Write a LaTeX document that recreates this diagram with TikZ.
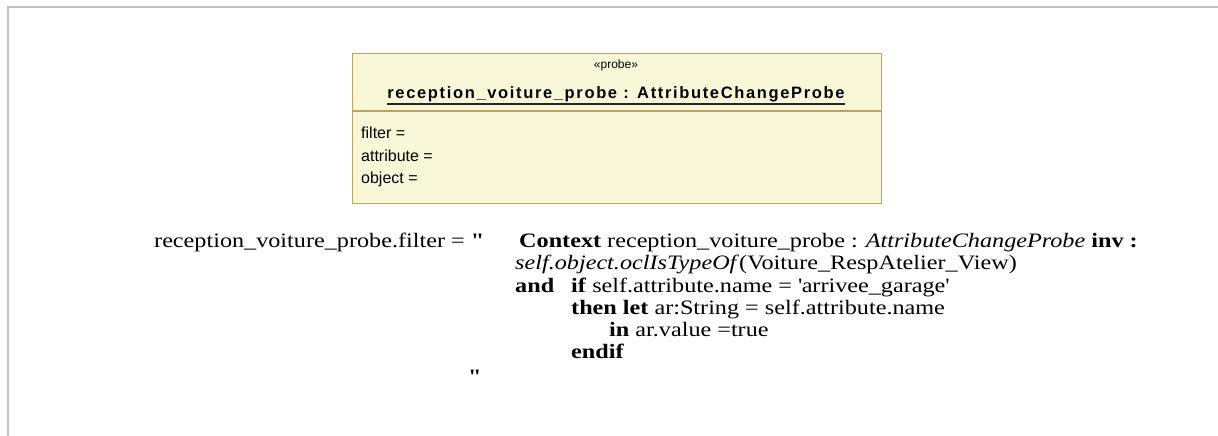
\documentclass[tikz,border=0pt]{standalone}
\usepackage{fontspec}
\setmainfont{Liberation Serif}[FakeStretch=1.18]
\newfontfamily\umlfont{Liberation Sans}
\newfontfamily\umltitlefont[LetterSpace=10]{Liberation Sans}
\usepackage{xcolor}
\usetikzlibrary{positioning}
\definecolor{probefill}{RGB}{248,248,216}
\definecolor{probeedge}{RGB}{190,162,98}
\definecolor{framegray}{RGB}{192,192,192}
\tikzset{
  probehead/.style={draw=probeedge, fill=probefill, line width=1pt, minimum width=529pt, minimum height=57pt, inner sep=0pt},
  probebody/.style={draw=probeedge, fill=probefill, line width=1pt, minimum width=529pt, minimum height=92pt, inner sep=0pt},
  umltxt/.style={font=\umlfont\fontsize{16}{19}\selectfont, inner sep=0pt, anchor=base west},
  ocl/.style={font=\fontsize{20.5}{23}\selectfont, inner sep=0pt, anchor=base west},
  titleline/.style={line width=1.5pt, black!85},
}

\begin{document}
\begin{tikzpicture}[x=1pt,y=-1pt]
\useasboundingbox (0,0) rectangle (1218,436);
% frame
\draw[framegray, line width=2pt] (8,440) -- (8,7) -- (1222,7);

% probe instance
\node[probehead, anchor=north west] (head) at (352,53) {};
\node[probebody, below=0pt of head] (body) {};
\node[font=\umlfont\fontsize{12}{14}\selectfont, inner sep=0pt] (stereo) at (616,65) {«probe»};
\node[font=\umltitlefont\bfseries\fontsize{16.5}{20}\selectfont, inner sep=0pt, anchor=base] (title) at (616,98) {reception\_voiture\_probe : AttributeChangeProbe};
\draw[titleline] ([yshift=-6pt]title.base west) -- ([yshift=-6pt]title.base east);
\node[umltxt] (filter) at (361,138) {filter =};
\node[umltxt] (attribute) at (361,161) {attribute =};
\node[umltxt] (object) at (361,183) {object =};

% OCL filter
\node[ocl] (l0) at (154,247) {reception\_voiture\_probe.filter = \textbf{\textquotedbl}};
\node[ocl] (l1) at (519,247) {\textbf{Context} reception\_voiture\_probe : \textit{AttributeChangeProbe} \textbf{inv :}};
\node[ocl] (l2) at (515,269) {\textit{self.object.oclIsTypeOf}(Voiture\_RespAtelier\_View)};
\node[ocl] (l3) at (515,292) {\textbf{and}};
\node[ocl] (l3b) at (571,292) {\textbf{if}\ self.attribute.name = \textquotesingle arrivee\_garage\textquotesingle};
\node[ocl] (l4) at (571,314) {\textbf{then let} ar:String = self.attribute.name};
\node[ocl] (l5) at (609,336) {\textbf{in} ar.value =true};
\node[ocl] (l6) at (571,358) {\textbf{endif}};
\node[ocl] (l7) at (468,383) {\textbf{\textquotedbl}};
\end{tikzpicture}
\end{document}
